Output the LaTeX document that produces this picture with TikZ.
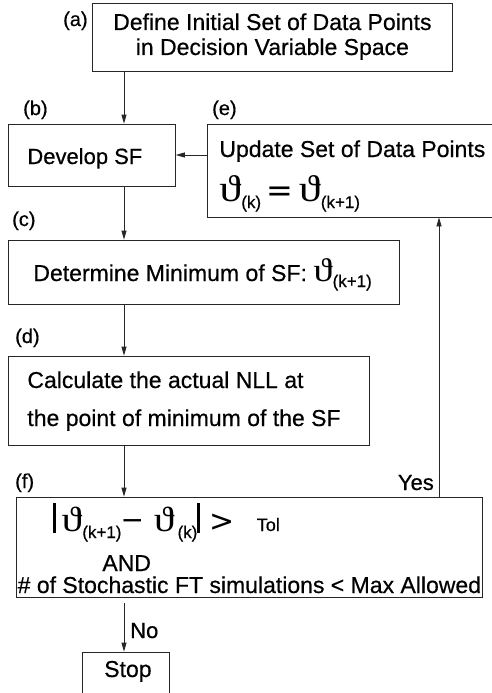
\documentclass[tikz,border=0pt]{standalone}
\usepackage{fontspec}
\setmainfont{Liberation Sans}[FakeBold=0.5]
\newfontfamily\thfont{Liberation Serif}
\newfontfamily\opfont{DejaVu Sans}
\usetikzlibrary{arrows.meta}
\newcommand{\thv}[1][34]{\scalebox{1.3}[1.1]{\thfont\fontsize{#1}{#1}\selectfont ϑ}}
\newcommand{\ssub}[2][7pt]{\raisebox{-#1}{\fontsize{17}{17}\selectfont #2}}
\newcommand{\mop}[2][32]{{\opfont\fontsize{#1}{#1}\selectfont #2}}
\newcommand{\absbar}{\rule[-2pt]{2.3pt}{30pt}}
\tikzset{
  box/.style={draw=black!85, line width=0.8pt, inner sep=0pt, anchor=base west, fill=white},
  txt/.style={font=\fontsize{23}{23}\selectfont},
  lbl/.style={inner sep=0pt, anchor=base west, font=\fontsize{20}{20}\selectfont},
  yn/.style={inner sep=0pt, font=\fontsize{22}{22}\selectfont},
  arr/.style={draw=black!85, line width=0.8pt, -{Triangle[length=9pt,width=5pt]}},
  ln/.style={draw=black!85, line width=0.8pt}
}
\begin{document}
\begin{tikzpicture}[x=1pt,y=-1pt]
\path[use as bounding box, fill=white] (0,0) rectangle (492,693);
\clip (0,0) rectangle (492,693);
% helper coordinates
\coordinate (xm) at (124,0);
\coordinate (xy) at (439,0);
\coordinate (ye) at (0,155);
% boxes
\node[box, txt, text height=27pt, text depth=41pt] (a) at (92,30)
 {\vtop{\baselineskip=0pt\lineskiplimit=-1000pt
  \hbox to 360pt{\hss Define Initial Set of Data Points\hss}\vskip25pt
  \hbox to 360pt{\hss in Decision Variable Space\hss}}};
\node[box, font=\fontsize{22}{22}\selectfont, text height=40pt, text depth=22pt] (b) at (8,164)
 {\hbox to 167pt{\hskip 19pt Develop SF\hss}};
\node[box, txt, text height=33pt, text depth=60pt] (e) at (207,157)
 {\vtop{\baselineskip=0pt\lineskiplimit=-1000pt
  \hbox to 290pt{\hskip 12pt Update Set of Data Points\hss}\vskip44pt
  \hbox to 290pt{\hskip 12pt \thv\ssub{(k)}\hskip5pt\mop{=}\hskip6pt\thv\ssub{(k+1)}\hss}}};
\node[box, txt, text height=41pt, text depth=23pt] (c) at (8,281)
 {\hbox to 391pt{\hskip 25pt Determine Minimum of SF: \thv[30]\ssub[6pt]{(k+1)}\hss}};
\node[box, txt, text height=32pt, text depth=57pt] (d) at (8,388)
 {\vtop{\baselineskip=0pt\lineskiplimit=-1000pt
  \hbox to 361pt{\hskip 19pt Calculate the actual NLL at\hss}\vskip38pt
  \hbox to 361pt{\hskip 19pt the point of minimum of the SF\hss}}};
\node[box, txt, text height=34pt, text depth=66pt] (f) at (16,531)
 {\vtop{\baselineskip=0pt\lineskiplimit=-1000pt
  \hbox to 466pt{\hskip 37pt \absbar\hskip6pt\thv[32]\ssub{(k+1)}\hskip-1pt\raisebox{2pt}{\mop[28]{−}}\hskip10pt\thv[32]\hskip3pt\ssub{(k)}\absbar\hskip10pt\mop[30]{>}\hskip22pt{\fontsize{18}{18}\selectfont Tol}\hss}\vskip40pt
  \hbox to 466pt{\hskip 86pt AND\hss}\vskip22pt
  \hbox to 466pt{\hss\# of Stochastic FT simulations < Max Allowed\hss}}};
\node[box, txt, text height=25pt, text depth=23pt] (stop) at (82,677)
 {\hbox to 87pt{\hskip4pt\hss Stop\hss}};
% step labels
\node[lbl] (la) at (63,26) {(a)};
\node[lbl] (lb) at (23,115) {(b)};
\node[lbl] (le) at (212,115) {(e)};
\node[lbl] (lc) at (12,226) {(c)};
\node[lbl] (ld) at (15,343) {(d)};
\node[lbl] (lf) at (15,488) {(f)};
% connectors
\draw[arr] (a.south -| xm) -- (b.north -| xm);
\draw[arr] (b.south -| xm) -- (c.north -| xm);
\draw[arr] (c.south -| xm) -- (d.north -| xm);
\draw[arr] (d.south -| xm) -- (f.north -| xm);
\draw[arr] (e.west |- ye) -- (b.east |- ye);
\draw[arr] ([yshift=-6pt]f.south -| xm) -- (stop.north -| xm);
\draw[arr] (f.north -| xy) -- (e.south -| xy);
\node[yn, anchor=base east] (yes) at (434,490) {Yes};
\node[yn, anchor=base west] (no) at (130,638) {No};
\end{tikzpicture}
\end{document}
